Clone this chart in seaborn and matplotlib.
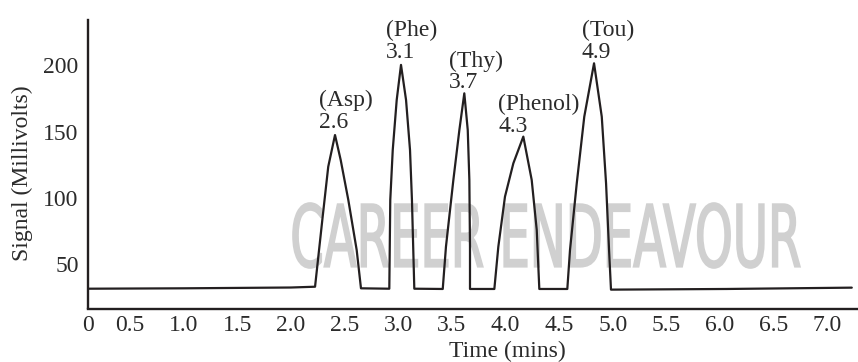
import numpy as np
import pandas as pd
import matplotlib
matplotlib.use("Agg")
import matplotlib.pyplot as plt
import seaborn as sns
from matplotlib.textpath import TextPath
from matplotlib.patches import PathPatch
from matplotlib.font_manager import FontProperties
from matplotlib.transforms import Affine2D, IdentityTransform

# chromatogram trace (time in mins, signal in mV)
time_min = [0.11, 1.0, 2.0, 2.225,
            2.296, 2.348, 2.411, 2.464, 2.535, 2.613, 2.653,
            2.917, 2.926, 2.949, 2.986, 3.026, 3.073, 3.110, 3.128, 3.150,
            3.415, 3.445, 3.514, 3.570, 3.616, 3.648, 3.663, 3.669, 3.669,
            3.896, 3.933, 3.995, 4.073, 4.166, 4.244, 4.291, 4.315,
            4.576, 4.601, 4.664, 4.734, 4.825, 4.897, 4.937, 4.965, 4.983,
            6.062, 7.227]
signal_mv = [31.7, 32.0, 32.6, 33.2,
             85.9, 123.6, 147.4, 128.6, 98.5, 60.8, 32.0,
             31.7, 98.5, 136.1, 173.8, 200.2, 173.8, 136.1, 98.5, 31.7,
             31.5, 63.3, 113.6, 151.2, 178.8, 151.2, 113.6, 63.3, 31.5,
             31.5, 63.3, 101.0, 126.1, 146.2, 113.6, 75.9, 31.5,
             31.5, 60.8, 111.1, 161.2, 201.4, 161.2, 111.1, 60.8, 31.0,
             31.5, 32.5]

peak_names = ["Asp", "Phe", "Thy", "Phenol", "Tou"]
peak_rt = ["2.6", "3.1", "3.7", "4.3", "4.9"]

x_ticks = [0.5, 1.0, 1.5, 2.0, 2.5, 3.0, 3.5, 4.0, 4.5, 5.0, 5.5, 6.0, 6.5, 7.0]
y_ticks = [50, 100, 150, 200]

watermark = "CAREER ENDEAVOUR"

# label offsets from each peak tip (points)
label_offsets = [(-11.5, 1.5), (-11, 1.5), (-11, 0), (-18, 0), (-9, 0)]

ink = "#231f20"
text_col = "#2b2b2b"

sns.set_theme(style="white")
plt.rcParams["font.family"] = ["Liberation Serif", "DejaVu Serif"]
plt.rcParams["font.size"] = 17

df = pd.DataFrame({"time": time_min, "signal": signal_mv})

fig = plt.figure(figsize=(8.58, 3.62), dpi=100)
ax = fig.add_axes([88 / 858, (362 - 308.5) / 362, 770 / 858, 288.5 / 362])

x_left, x_right = 0.109, 7.285
y_low, y_high = 16.8, 234.0

# faint condensed watermark behind the trace (squeezed into its box in pixels)
wm_path = TextPath((0, 0), watermark, size=1,
                   prop=FontProperties(family="DejaVu Sans", weight="normal"))
bb = wm_path.get_extents()
box_x0, box_x1, box_y0, box_y1 = 293, 800, 362 - 268, 362 - 203
wm_tf = (Affine2D().translate(-bb.x0, -bb.y0)
         .scale((box_x1 - box_x0) / bb.width, (box_y1 - box_y0) / bb.height)
         .translate(box_x0, box_y0))
ax.add_patch(PathPatch(wm_tf.transform_path(wm_path), transform=IdentityTransform(),
                       facecolor="#d0d0d0", edgecolor="#d0d0d0", linewidth=1.2,
                       zorder=0, clip_on=False))

sns.lineplot(data=df, x="time", y="signal", ax=ax, sort=False, estimator=None,
             color=ink, linewidth=1.6, zorder=3)

# label each peak with compound and retention time
sig = np.array(signal_mv)
peaks = [i for i in range(1, len(sig) - 1)
         if sig[i] > sig[i - 1] and sig[i] > sig[i + 1] and sig[i] > 100]
for idx, name, rt, off in zip(peaks, peak_names, peak_rt, label_offsets):
    ax.annotate(f"({name})\n{rt}", xy=(time_min[idx], signal_mv[idx]),
                xytext=off, textcoords="offset points",
                ha="left", va="bottom", color=text_col, fontsize=17,
                linespacing=1.05)

ax.set_xlim(x_left, x_right)
ax.set_ylim(y_low, y_high)
ax.set_xticks([x_left] + x_ticks)
ax.set_xticklabels(["0"] + [f"{t:.1f}" for t in x_ticks])
ax.set_yticks(y_ticks)
ax.set_yticklabels([str(v) for v in y_ticks])
ax.get_xticklines()[0].set_visible(False)
ax.get_xticklines()[1].set_visible(False)

ax.tick_params(axis="both", direction="inout", colors=ink, labelcolor=text_col,
               labelsize=17, width=2.2)
ax.tick_params(axis="x", length=6, pad=1.5)
ax.tick_params(axis="y", length=7.5, pad=3)

sns.despine(ax=ax)
for side in ["left", "bottom"]:
    ax.spines[side].set_color(ink)
    ax.spines[side].set_linewidth(1.7)

ax.set_xlabel("Time (mins)", color=text_col, fontsize=17)
ax.set_ylabel("Signal (Millivolts)", color=text_col, fontsize=17)
ax.xaxis.set_label_coords(0.545, -0.113)
ax.yaxis.set_label_coords(-0.071, 0.468)
ax.set_facecolor("white")

fig.savefig("out.png", dpi=100, facecolor="white")
